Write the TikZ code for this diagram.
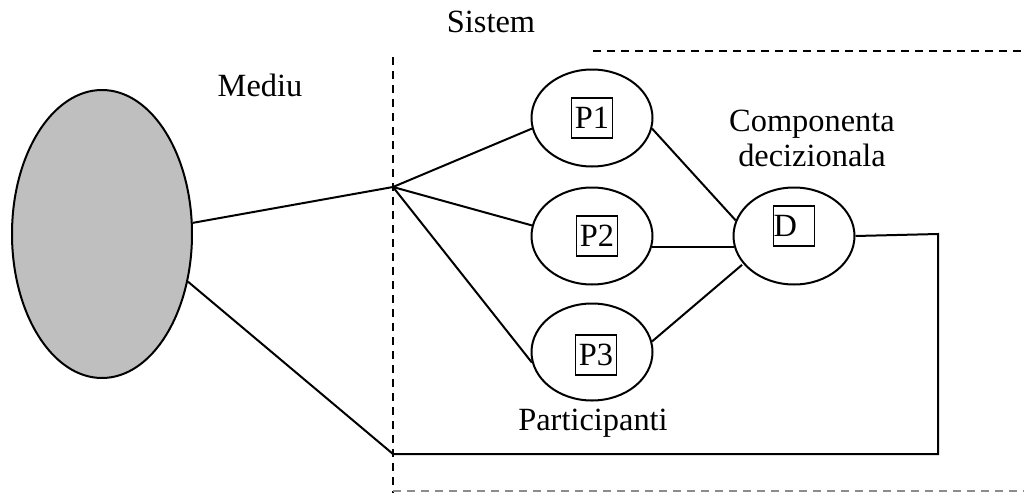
\documentclass[tikz,border=0pt]{standalone}
\usepackage{fontspec}
\setmainfont{Liberation Serif}
\usepackage{tikz}
\usetikzlibrary{shapes.geometric, positioning}
\tikzset{
	env/.style  ={ellipse, draw=black, line width=1pt, fill=black!25, minimum width=90pt, minimum height=144pt},
	part/.style ={ellipse, draw=black, line width=1pt, minimum width=60.5pt, minimum height=48.5pt},
	tag/.style  ={rectangle, draw=black, line width=0.7pt, minimum width=20.5pt, minimum height=20pt, inner sep=0pt},
	lbl/.style  ={align=center, inner sep=0pt},
	link/.style ={line width=1pt},
	bnd/.style  ={line width=1pt, dash pattern=on 4pt off 3pt},
}

\begin{document}
\begin{tikzpicture}[x=0.5pt, y=-0.5pt, font=\fontsize{16.2}{17.5}\selectfont]
	\useasboundingbox (0,0) rectangle (1024,493);
	% system boundary
	\draw[bnd] (393,57) -- (393,493);
	\draw[bnd] (593,51) -- (1024,51);
	\draw[bnd, black!45] (393,491) -- (1024,491);
	\node[lbl] (sist) at (491,22) {Sistem};
	\node[lbl] (med) at (260,85) {Mediu};
	\node[env] (env) at (102,234) {};
	\node[part] (p1) at (592,118) {};
	\node[part, below=9.5pt of p1] (p2) {};
	\node[part, below=8.5pt of p2] (p3) {};
	\node[part, right=39.5pt of p2] (d) {};
	\node[tag] (t1) at (p1) {P1};
	\node[tag] (t2) at ([xshift=2.5pt]p2) {P2};
	\node[tag] (t3) at ([xshift=2pt, yshift=-1.5pt]p3) {P3};
	\node[tag, text width=20.5pt, align=left] (td) at ([yshift=5pt]d) {D};
	\node[lbl] (comp) at (812,138) {Componenta\\decizionala};
	\node[lbl] (parti) at (593,423) {Participanti};
	\coordinate (hub) at (393,187);
	\coordinate (tr) at (938,234);
	\coordinate (br) at (938,454);
	\coordinate (bl) at (393,454);
	\draw[link] (env.7) -- (hub);
	\draw[link] (hub) -- (p1.190);
	\draw[link] (hub) -- (p2.170);
	\draw[link] (hub) -- (p3.190);
	\draw[link] (p1.-10) -- (d.165);
	\draw[link] (p2.-10) -- (d.190);
	\draw[link] (p3.10) -- ([xshift=-1pt]d.210);
	\draw[link] (d.east) -- (tr) -- (br) -- (bl) -- (env.-29);
\end{tikzpicture}
\end{document}
